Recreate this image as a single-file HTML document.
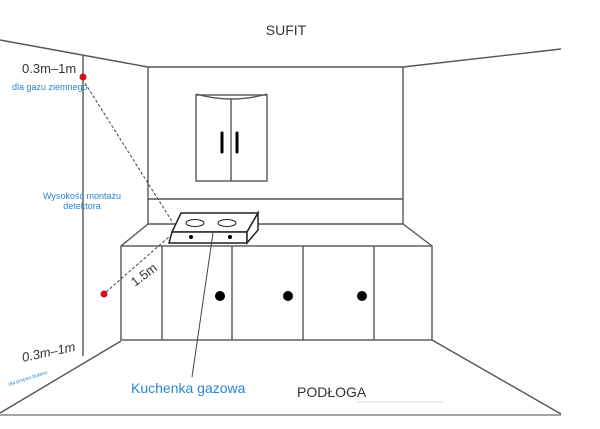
<!DOCTYPE html>
<html><head><meta charset="utf-8"><style>
html,body{margin:0;padding:0;background:#fff;width:600px;height:429px;overflow:hidden}
svg{display:block;font-family:"Liberation Sans",sans-serif}
</style></head><body>
<svg width="600" height="429" viewBox="0 0 600 429" xmlns="http://www.w3.org/2000/svg">
<g stroke="#555" stroke-width="1.4" fill="none">
<line x1="0" y1="40" x2="148" y2="67"/>
<line x1="403" y1="67" x2="561" y2="49"/>
<line x1="148" y1="67" x2="403" y2="67"/>
<line x1="148" y1="67" x2="148" y2="224"/>
<line x1="403" y1="67" x2="403" y2="224"/>
<line x1="148" y1="199" x2="403" y2="199"/>
<line x1="148" y1="224" x2="403" y2="224"/>
<line x1="83" y1="56" x2="83" y2="356"/>
<line x1="0" y1="413" x2="121" y2="341"/>
<line x1="432" y1="340" x2="561" y2="414"/>
<line x1="0" y1="415" x2="561" y2="415" stroke="#888"/>
<line x1="121" y1="246" x2="148" y2="224"/>
<line x1="403" y1="224" x2="432" y2="246"/>
<rect x="121" y="246" width="311" height="94"/>
<line x1="162" y1="246" x2="162" y2="340"/>
<line x1="232" y1="246" x2="232" y2="340"/>
<line x1="303" y1="246" x2="303" y2="340"/>
<line x1="374" y1="246" x2="374" y2="340"/>
<rect x="196" y="95" width="71" height="86"/>
<path d="M196 94 Q231 104 267 94"/>
<line x1="231" y1="99" x2="231" y2="181"/>
</g>
<line x1="356" y1="402" x2="443" y2="402" stroke="#ddd"/>
<g stroke="#000" stroke-width="3" stroke-linecap="round">
<line x1="222" y1="133" x2="222" y2="152"/><line x1="237" y1="133" x2="237" y2="152"/>
</g>
<g fill="#000"><circle cx="220" cy="296" r="5"/><circle cx="288" cy="296" r="5"/><circle cx="362" cy="296" r="5"/></g>
<g stroke="#222" stroke-width="1.5" fill="#fff">
<path d="M181 213 L258 213 L247 232 L172 232 Z"/>
<path d="M172 232 L247 232 L247 243 L169 243 Z"/>
<path d="M258 213 L258 230 L247 243 L247 232 Z"/>
<ellipse cx="195" cy="223" rx="9" ry="3.5" stroke-width="1"/>
<ellipse cx="227" cy="223" rx="9" ry="3.5" stroke-width="1"/>
</g>
<g fill="#000"><circle cx="191" cy="237" r="2"/><circle cx="230" cy="237" r="2"/></g>
<g stroke="#444" stroke-width="1" stroke-dasharray="3,2">
<line x1="85" y1="83" x2="173" y2="223"/>
<line x1="106" y1="292" x2="170" y2="236"/>
</g>
<line x1="213" y1="233" x2="192" y2="377" stroke="#444" stroke-width="1"/>
<circle cx="83" cy="77" r="3.5" fill="#d0101c"/>
<circle cx="104" cy="294" r="3.5" fill="#d0101c"/>
<g fill="#333">
<text x="286" y="35" font-size="14" text-anchor="middle">SUFIT</text>
<text x="22" y="73" font-size="13">0.3m–1m</text>
<text x="297" y="397" font-size="14">PODŁOGA</text>
<text x="0" y="0" font-size="13" transform="translate(135,287) rotate(-37)">1.5m</text>
<text x="0" y="0" font-size="13" font-style="italic" transform="translate(23,362) rotate(-12)">0.3m–1m</text>
</g>
<g fill="#2a86d0">
<text x="12" y="90" font-size="9">dla gazu ziemnego</text>
<text x="82" y="199" font-size="9" text-anchor="middle">Wysokość montażu</text>
<text x="82" y="209" font-size="9" text-anchor="middle">detektora</text>
<text x="0" y="0" font-size="5" transform="translate(9,386) rotate(-18)">dla propan-butanu</text>
<text x="131" y="393" font-size="14">Kuchenka gazowa</text>
</g>
</svg>
</body></html>
